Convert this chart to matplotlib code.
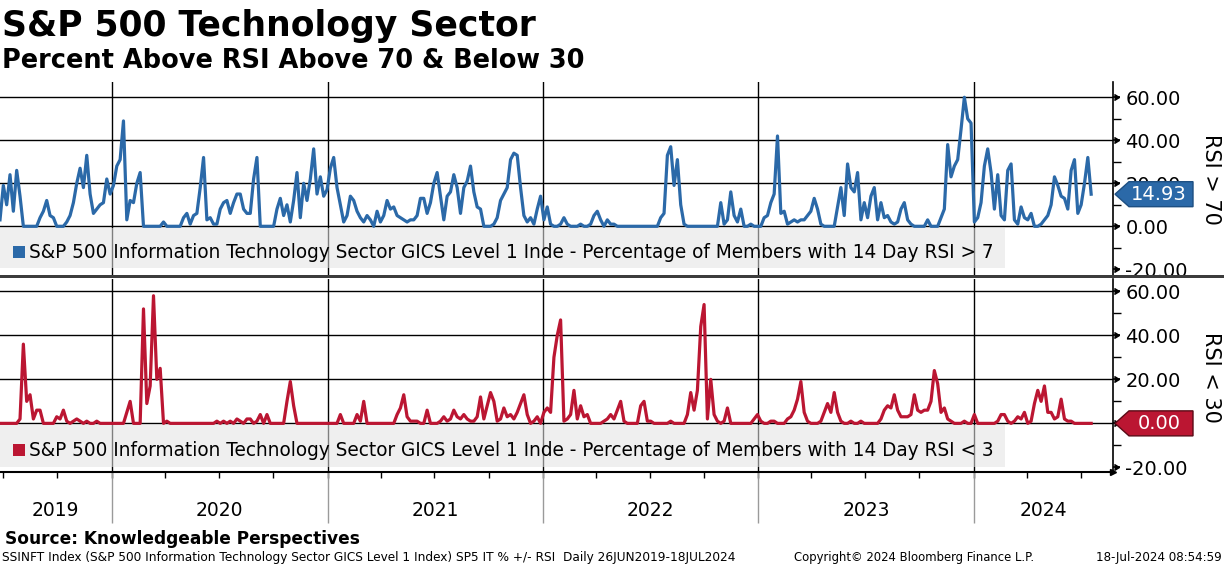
import matplotlib
matplotlib.use("Agg")
import matplotlib.dates as mdates
import matplotlib.pyplot as plt
import numpy as np
import pandas as pd
from matplotlib.patches import Polygon, Rectangle
from matplotlib.ticker import FormatStrFormatter
from matplotlib.transforms import IdentityTransform

# percent of members with 14 day RSI > 70 (evenly spaced, 26JUN2019-18JUL2024)
above_70_a = [
    3, 19, 10, 24, 7, 26, 14, 0, 0, 0,
    0, 0, 4, 7, 12, 5, 4, 0, 0, 0,
    2, 5, 11, 20, 27, 18, 33, 15, 6, 8,
    10, 11, 22, 15, 19, 28, 31, 49, 3, 12,
    11, 20, 25, 0, 0, 0, 0, 0, 0, 2,
    0, 0, 0, 0, 0, 4, 6, 1, 5, 6,
    18, 32, 3, 4, 1, 1, 8, 11, 12, 6,
    11, 15, 15, 8, 6, 6, 22, 32, 0, 0,
    0, 0, 0, 8, 13, 5, 10, 2, 12, 25,
    4, 20, 12, 22, 36, 15, 23, 14, 17, 27,
    32, 18, 10, 2, 5, 14, 12, 7, 4, 2, 5,
]
above_70_b = [
    3, 0, 7, 2, 5, 12, 8, 9, 5, 4,
    3, 2, 3, 3, 5, 13, 13, 6, 11, 20,
    25, 14, 3, 14, 16, 24, 18, 6, 18, 21,
    28, 16, 9, 8, 0, 0, 0, 1, 4, 12,
    15, 18, 31, 34, 33, 18, 5, 2, 4, 1,
    8, 14, 3, 9, 1, 0, 0, 1, 4, 1,
    0, 0, 0, 1, 0, 0, 1, 5, 7, 3,
    0, 3, 1, 1, 0, 0, 0, 0, 0, 0,
    0, 0, 0, 0, 0, 0, 0, 4, 6, 33,
    37, 19, 31, 10, 1, 0, 0, 0, 0, 0,
    0, 0, 0, 0, 0, 11, 1, 3, 16, 5,
]
above_70_c = [
    2, 8, 0, 0, 1, 0, 0, 0, 4, 5,
    11, 15, 42, 6, 7, 1, 2, 3, 2, 3,
    3, 5, 7, 13, 8, 1, 0, 0, 0, 0,
    9, 18, 5, 29, 18, 16, 25, 3, 11, 4,
    14, 18, 3, 11, 4, 5, 2, 1, 2, 8,
    11, 3, 1, 0, 0, 0, 0, 3, 0, 0,
    0, 4, 8, 38, 23, 28, 31, 45, 60, 50,
    48, 2, 4, 11, 28, 36, 25, 8, 24, 5,
    3, 26, 29, 3, 1, 9, 4, 3, 6, 0,
    0, 1, 3, 5, 10, 23, 19, 14, 13, 8,
    26, 31, 6, 10, 20, 32, 14.93,
]

# percent of members with 14 day RSI < 30
below_30_a = [
    0, 0, 0, 0, 0, 0, 2, 36, 10, 13,
    2, 6, 6, 0, 0, 0, 0, 3, 2, 6,
    1, 0, 1, 2, 1, 0, 1, 0, 0, 1,
    0, 0, 0, 0, 0, 0, 0, 0, 5, 10,
    0, 0, 0, 52, 9, 17, 58, 20, 25, 0,
    1, 0, 0, 0, 0, 0, 0, 0, 0, 0,
    0, 0, 0, 0, 0, 1, 0, 1, 0, 1,
    0, 2, 1, 0, 2, 2, 0, 1, 4, 0,
    4, 0, 0, 0, 0, 0, 10, 19, 8, 0,
    0, 0, 0, 0, 0, 0, 0, 0, 0, 0,
    0, 0, 4, 0, 0, 0, 0, 4, 1, 10,
    0, 0, 0, 0, 0, 0, 0, 0, 0, 4,
    7, 13, 3, 1, 1, 1, 0, 0, 6, 0,
    0, 0, 1, 3, 1, 2, 6, 3, 2, 4,
    2, 1, 1, 3, 12, 2, 8, 14, 10, 1,
    2, 7, 3, 4, 2, 5, 9, 13, 4, 0,
    1, 3, 0, 5, 7,
]
below_30_b = [
    5, 30, 40, 47, 1, 2, 4, 15, 2, 8,
    3, 4, 0, 0, 0, 0, 1, 2, 4, 2,
    6, 10, 1, 0, 0, 0, 0, 8, 10, 1,
    1, 0, 0, 0, 0, 0, 1, 0, 0, 0,
    0, 4, 14, 6, 15, 44, 54, 2, 20, 4,
    1, 0, 1, 7, 0, 0, 0, 0, 0, 0,
    0, 2, 4, 1, 0, 0, 1, 1, 0, 0,
    0, 2, 3, 6, 11, 19, 5, 1, 0, 0,
    0, 1, 5, 9, 5, 14, 5, 1, 0, 0,
    1, 0, 0, 1, 0, 0, 0, 0, 0, 2,
    6, 8, 7, 13, 6, 3, 3, 3, 4, 13,
    6, 5, 6, 6, 10, 24, 18, 5, 7, 2,
    1, 0, 0, 0, 1, 0, 0, 4, 0, 0,
    0, 0, 0, 0, 1, 4, 4, 1, 0, 1,
    3, 2, 5, 0, 1, 9, 15, 10, 17, 5,
    5, 2, 3, 11, 2, 1, 1, 0, 0, 0,
    0, 0, 0,
]

above_70 = above_70_a + above_70_b + above_70_c
below_30 = below_30_a + below_30_b

start_date = "2019-06-26"
end_date = "2024-07-18"
years = [2019, 2020, 2021, 2022, 2023, 2024]
legend_70 = "S&P 500 Information Technology Sector GICS Level 1 Inde - Percentage of Members with 14 Day RSI > 7"
legend_30 = "S&P 500 Information Technology Sector GICS Level 1 Inde - Percentage of Members with 14 Day RSI < 3"

BLUE = "#2b69a8"
RED = "#bb1632"
W, H = 1224, 566


def fx(x):
    return x / W


def fy(y):
    return 1 - y / H


fig = plt.figure(figsize=(W / 100, H / 100), dpi=100)
renderer = fig.canvas.get_renderer()


def fit(txt, width_px):
    w = txt.get_window_extent(renderer=renderer).width
    txt.set_fontsize(txt.get_fontsize() * width_px / w)


ax1 = fig.add_axes([0, fy(275), fx(1113), (275 - 82) / H])
ax2 = fig.add_axes([0, fy(472), fx(1113), (472 - 279) / H])

x_start = pd.Timestamp(start_date)
x_end = x_start + pd.Timedelta(days=1886)
year_starts = [pd.Timestamp(f"{y}-01-01") for y in years[1:]]

panels = [
    (ax1, above_70, BLUE, (-22.65, 67.1), "RSI > 70", 179),
    (ax2, below_30, RED, (-22.1, 65.6), "RSI < 30", 377),
]

for ax, values, color, ylim, label, label_y in panels:
    dates = pd.date_range(start_date, end_date, periods=len(values))
    ax.plot(dates, values, color=color, lw=2.3, zorder=3, solid_joinstyle="round")
    ax.set_xlim(x_start, x_end)
    ax.set_ylim(*ylim)
    for v in [0, 20, 40, 60]:
        ax.axhline(v, color="black", lw=1, zorder=1)
    for ys in year_starts:
        ax.axvline(ys, color="black", lw=1, zorder=1)
    for side in ["left", "top", "bottom"]:
        ax.spines[side].set_visible(False)
    ax.spines["right"].set_linewidth(1.2)
    ax.yaxis.tick_right()
    ax.set_yticks([-20, 0, 20, 40, 60])
    ax.set_yticks([-10, 10, 30, 50], minor=True)
    ax.yaxis.set_major_formatter(FormatStrFormatter("%.2f"))
    ax.tick_params(axis="y", which="major", length=5, width=1.2, labelsize=14, pad=4)
    ax.tick_params(axis="y", which="minor", length=6, width=1)
    ax.plot([1 + 6 / 1113] * 5, [-20, 0, 20, 40, 60], ls="none", marker=5, ms=4.5, color="black",
            transform=ax.get_yaxis_transform(), clip_on=False)
    fig.text(fx(1211), fy(label_y), label, rotation=270, ha="center", va="center", fontsize=15)

ax1.set_xticks([])
# the bottom panel's 0.00 label sits under the last-value tag
ax2.get_yticklabels()[1].set_visible(False)

ax2.spines["bottom"].set_visible(True)
ax2.spines["bottom"].set_linewidth(1.5)
ax2.plot(1, 0, marker=">", ms=5, color="black", transform=ax2.transAxes, clip_on=False)
ax2.set_xticks(pd.date_range("2019-07-01", "2024-07-01", freq="QS"))
ax2.tick_params(axis="x", length=4, width=1, labelbottom=False)
ax2.vlines(mdates.date2num(year_starts), -(523 - 472) / 193, 0,
           transform=ax2.get_xaxis_transform(), colors="#9a9a9a", lw=1, clip_on=False)
bounds = [x_start] + year_starts + [x_end]
for i, y in enumerate(years):
    mid = bounds[i] + (bounds[i + 1] - bounds[i]) / 2
    ax2.text(mdates.date2num(mid), -(511 - 472) / 193, str(y), transform=ax2.get_xaxis_transform(),
             ha="center", va="center", fontsize=13.5)

# legend boxes
for top, bot, text, color, ty in [(227.5, 268, legend_70, BLUE, 252), (424.5, 467, legend_30, RED, 450)]:
    fig.add_artist(Rectangle((0, fy(bot)), fx(1005), (bot - top) / H, transform=fig.transFigure,
                             facecolor="#e4e4e4", alpha=0.56, edgecolor="none", zorder=5))
    fig.add_artist(Rectangle((fx(13), fy(ty + 6)), fx(12), 12 / H, transform=fig.transFigure,
                             facecolor=color, edgecolor="none", zorder=6))
    t = fig.text(fx(29), fy(ty), text, va="center", ha="left", fontsize=13, zorder=6)
    fit(t, 966)

# separator between panels
fig.add_artist(Rectangle((0, fy(278.5)), 1, 3 / H, transform=fig.transFigure,
                         facecolor="#3c3c3c", edgecolor="none", zorder=4))

# last value tags
for ax, values, color, edge in [(ax1, above_70, BLUE, "#1d4f82"), (ax2, below_30, RED, "#5a0a16")]:
    last = values[-1]
    yp = ax.transData.transform((mdates.date2num(x_start), last))[1]
    pts = [(1115, yp), (1129, yp + 12.5), (1193, yp + 12.5), (1193, yp - 12.5), (1129, yp - 12.5)]
    fig.add_artist(Polygon(pts, closed=True, transform=IdentityTransform(),
                           facecolor=color, edgecolor=edge, lw=1, zorder=7))
    fig.text(fx(1159), yp / H, f"{last:.2f}", color="white", ha="center", va="center",
             fontsize=14, zorder=8)

# titles
t = fig.text(fx(2), fy(36), "S&P 500 Technology Sector", fontweight="bold", fontsize=24, va="baseline")
fit(t, 535)
t = fig.text(fx(2), fy(68), "Percent Above RSI Above 70 & Below 30", fontweight="bold", fontsize=16,
             va="baseline")
fit(t, 583)

# footer
t = fig.text(fx(5), fy(544), "Source: Knowledgeable Perspectives", fontweight="bold", fontsize=12,
             va="baseline")
fit(t, 355)
small = ["Liberation Sans Narrow", "DejaVu Sans"]
t = fig.text(fx(2), fy(561), "SSINFT Index (S&P 500 Information Technology Sector GICS Level 1 Index) "
             "SP5 IT % +/- RSI  Daily 26JUN2019-18JUL2024", family=small, fontsize=9, va="baseline")
fit(t, 733)
t = fig.text(fx(794), fy(561), "Copyright\u00a9 2024 Bloomberg Finance L.P.", family=small, fontsize=9,
             va="baseline")
fit(t, 241)
t = fig.text(fx(1096), fy(561), "18-Jul-2024 08:54:59", family=small, fontsize=9, va="baseline")
fit(t, 126)

fig.savefig("out.png", dpi=100)
